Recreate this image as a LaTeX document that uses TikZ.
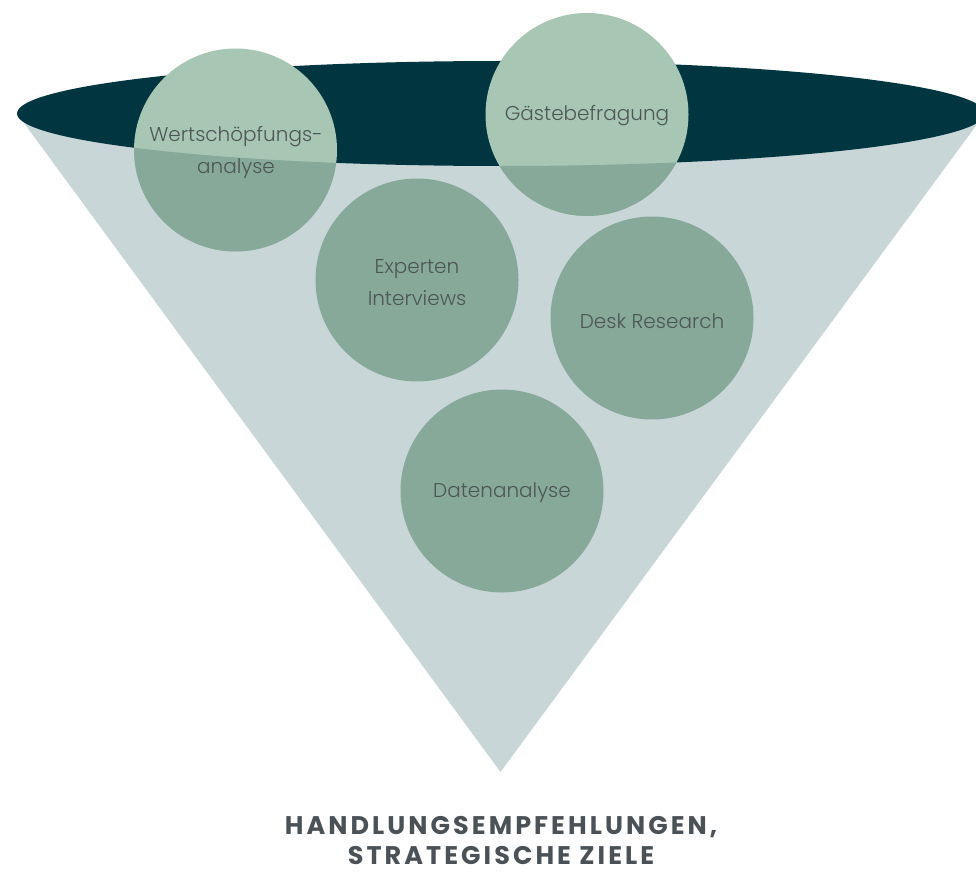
\documentclass[tikz,border=0pt]{standalone}
\usepackage{fontspec}
\setmainfont{Poppins Light}
\newfontfamily\titlefont[LetterSpace=12]{Poppins Bold}
\definecolor{ellc}{HTML}{013641}
\definecolor{conec}{HTML}{C9D6D8}
\definecolor{circd}{HTML}{86A99A}
\definecolor{circl}{HTML}{A7C7B4}
\definecolor{txtc}{HTML}{4E5656}
\definecolor{ttlc}{HTML}{4B5257}
\tikzset{
  bubble/.style={circle, minimum size=203pt, inner sep=0pt, fill=circd, draw=none},
  lbl/.style={text=txtc, align=center, inner sep=0pt, font=\fontsize{20}{32}\selectfont},
  ttl/.style={text=ttlc, align=center, inner sep=0pt, font=\titlefont\fontsize{25.5}{30}\selectfont}
}
\begin{document}
\begin{tikzpicture}[x=1pt,y=-1pt]
\useasboundingbox (0,0) rectangle (976,872);
\fill[white] (0,0) rectangle (976,872);
\begin{scope}
  \clip (0,0) rectangle (976,872);
  \fill[conec] (17,113.5) -- (500.5,772) -- (985,113.5) -- cycle;
  \fill[ellc] (501,113.5) ellipse [x radius=484, y radius=52.5];
\end{scope}
% top bubbles (light above the rim, darker inside the funnel)
\node[bubble, fill=circl] (wert) at (235.5,150) {};
\node[bubble, fill=circl] (gaeste) at (587,114.5) {};
\begin{scope}
  \clip (17,113.5) arc[start angle=180, end angle=0, x radius=484, y radius=52.5] -- (985,900) -- (17,900) -- cycle;
  \fill[circd] (wert.center) circle[radius=101.5pt];
  \fill[circd] (gaeste.center) circle[radius=101.5pt];
\end{scope}
% inner bubbles
\node[bubble] (expert) at (417,280) {};
\node[bubble] (desk) at (652,318) {};
\node[bubble] (daten) at (502,491) {};
% labels
\node[lbl] (wertt) at (236,152) {Wertschöpfungs-\\analyse};
\node[lbl] (gaestet) at (587,116) {Gästebefragung};
\node[lbl] (expertt) at (417,282.5) {Experten\\Interviews};
\node[lbl] (deskt) at (652,321) {Desk Research};
\node[lbl] (datent) at (502,493) {Datenanalyse};
\node[ttl] (title) at (501,840) {HANDLUNGSEMPFEHLUNGEN,\\STRATEGISCHE ZIELE};
\end{tikzpicture}
\end{document}
